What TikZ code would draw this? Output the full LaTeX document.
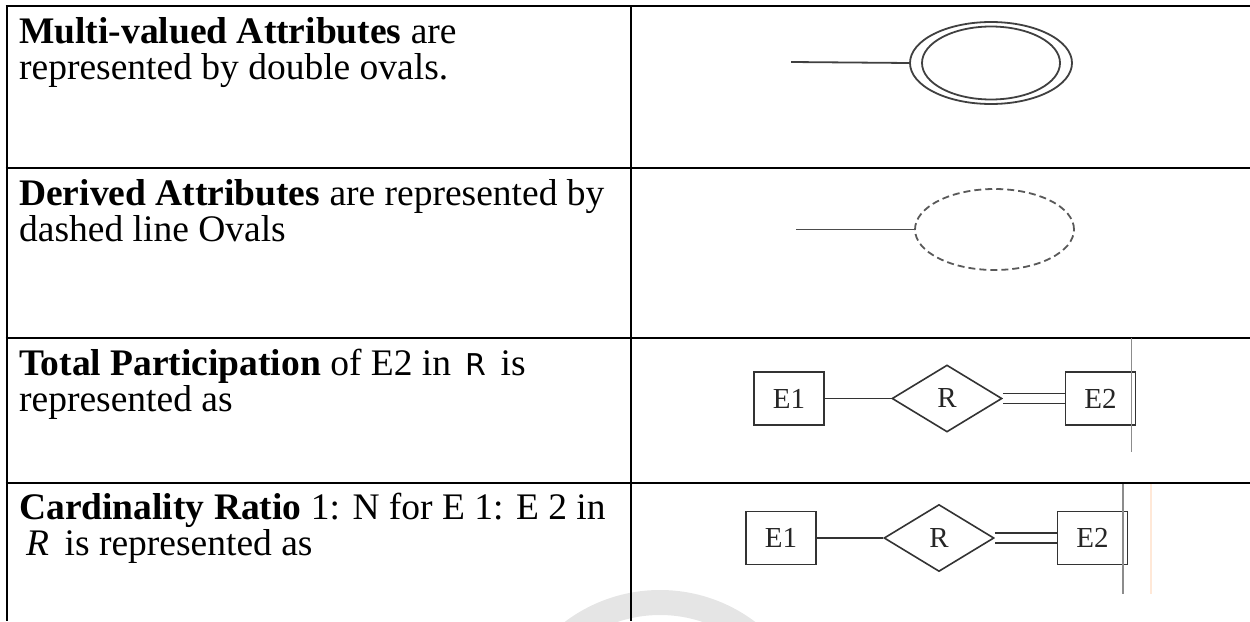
\documentclass[tikz,border=0pt]{standalone}
\usepackage{fontspec}
\setmainfont{Liberation Serif}
\usetikzlibrary{shapes.geometric}
\definecolor{peach}{RGB}{255,232,215}
\begin{document}
\begin{tikzpicture}[x=1pt,y=-1pt,
  thickrule/.style={line width=2.6pt, black},
  thinrule/.style={line width=1.3pt, black},
  txt/.style={anchor=base west, inner sep=0pt, font=\fontsize{37.5}{40}\selectfont},
  ent/.style={draw=black!80, line width=1.6pt, minimum width=70pt, minimum height=53pt, inner sep=0pt, font=\fontsize{29}{30}\selectfont, text=black!85},
  rel/.style={diamond, draw=black!80, line width=1.6pt, minimum width=110pt, minimum height=67pt, aspect=1.64, inner sep=0pt, font=\fontsize{29}{30}\selectfont, text=black!85},
  conn/.style={draw=black!80, line width=1.6pt},
  dconn/.style={draw=black!80, line width=1.5pt, double, double distance=8.5pt},
  attr/.style={ellipse, draw=black!75, line width=1.8pt, inner sep=0pt},
  guide/.style={line width=1.8pt, black!45}
  ]
\useasboundingbox (0,0) rectangle (1250,621);
% watermark ring
\draw[black!10, line width=25pt] (660,748) circle (145.5);

% table rules
\draw[thickrule] (7,6) -- (7,621);
\draw[thickrule] (631,6) -- (631,621);
\draw[thickrule] (5.7,6) -- (765,6);
\draw[thinrule] (765,6) -- (1088,6);
\draw[thickrule] (1088,6) -- (1250,6);
\draw[thickrule] (5.7,168) -- (765,168);
\draw[thinrule] (765,168) -- (1096,168);
\draw[thickrule] (1096,168) -- (1250,168);
\draw[thickrule] (5.7,338) -- (735,338);
\draw[thinrule] (735,338) -- (1146,338);
\draw[thickrule] (1146,338) -- (1250,338);
\draw[thickrule] (5.7,483) -- (1250,483);

% left column texts
\node[txt] (t1a) at (19,43) {\textbf{Multi-valued Attributes} are};
\node[txt] (t1b) at (19,79) {represented by double ovals.};
\node[txt] (t2a) at (19,205) {\textbf{Derived Attributes} are represented by};
\node[txt] (t2b) at (19,241) {dashed line Ovals};
\node[txt] (t3a) at (19,375) {\textbf{Total Participation} of E2 in {\fontspec{DejaVu Sans}\fontsize{30}{30}\selectfont\,R\,} is};
\node[txt] (t3b) at (19,411) {represented as};
\node[txt] (t4a) at (19,519) {\textbf{Cardinality Ratio} 1: N for E 1: E 2 in};
\node[txt] (t4b) at (26,555) {\textit{R}\, is represented as};

% row 1: multi-valued attribute
\node[attr, minimum width=162pt, minimum height=82pt] (mvo) at (991,63) {};
\node[attr, minimum width=138pt, minimum height=73pt] (mvi) at (991,63) {};
\coordinate (mvl) at (791,62);
\draw[conn, draw=black!75, line width=1.8pt] (mvl) -- (mvo.west);

% row 2: derived attribute
\node[attr, dash pattern=on 7pt off 4pt, draw=black!65, minimum width=159pt, minimum height=81pt] (dv) at (994.5,229.5) {};
\coordinate (dvl) at (796,229.5);
\draw[conn, draw=black!70, line width=1.8pt] (dvl) -- (dv.west);

% row 3: total participation
\node[ent] (a1) at (789,398.5) {E1};
\node[rel] (ar) at (947,398.5) {R};
\node[ent] (a2) at (1100.5,398.5) {E2};
\draw[conn] (a1) -- (ar);
\draw[dconn] (ar.east) -- (a2.west);
\coordinate (g3a) at (1131.5,338);
\coordinate (g3b) at (1131.5,452);
\draw[guide] (g3a) -- (g3b);

% row 4: cardinality ratio
\node[ent] (b1) at (781,538) {E1};
\node[rel] (br) at (939,538) {R};
\node[ent] (b2) at (1092.5,538) {E2};
\draw[conn] (b1) -- (br);
\draw[dconn] (br.east) -- (b2.west);
\coordinate (g4a) at (1123,484);
\coordinate (g4b) at (1123,594);
\draw[guide] (g4a) -- (g4b);
\coordinate (p4a) at (1151,484);
\coordinate (p4b) at (1151,594);
\draw[line width=2pt, peach] (p4a) -- (p4b);
\end{tikzpicture}
\end{document}
